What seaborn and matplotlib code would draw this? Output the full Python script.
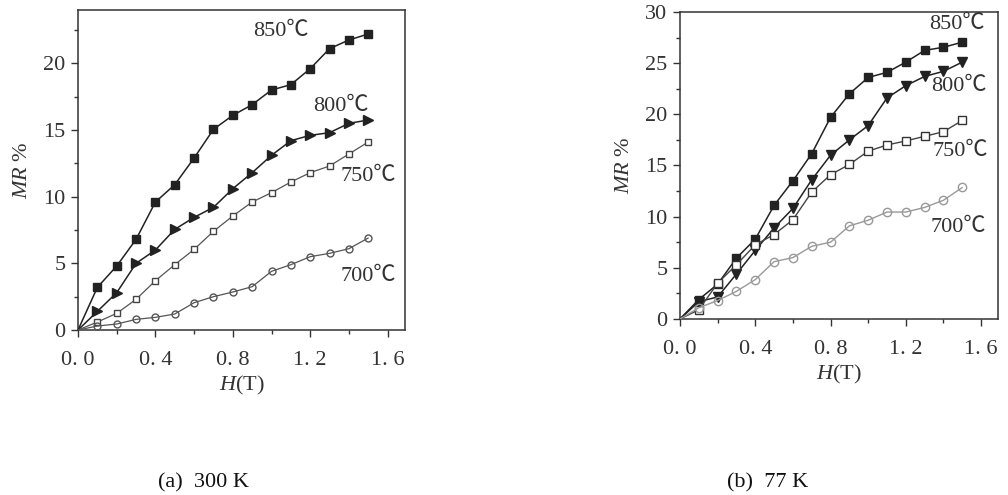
import numpy as np
import pandas as pd
import matplotlib
matplotlib.use("Agg")
import matplotlib.pyplot as plt
from matplotlib.ticker import MultipleLocator, FuncFormatter
import seaborn as sns

# field values (T), shared by both panels
field = [0.0, 0.1, 0.2, 0.3, 0.4, 0.5, 0.6, 0.7, 0.8, 0.9, 1.0, 1.1, 1.2, 1.3, 1.4, 1.5]
temps = ["850℃", "800℃", "750℃", "700℃"]

# (a) 300 K
mr_300_850 = [0, 3.2, 4.8, 6.8, 9.6, 10.9, 12.9, 15.05, 16.1, 16.9, 18.0, 18.4, 19.6, 21.1, 21.75, 22.2]
mr_300_800 = [0, 1.4, 2.8, 5.0, 6.0, 7.55, 8.45, 9.2, 10.6, 11.8, 13.1, 14.2, 14.6, 14.8, 15.5, 15.75]
mr_300_750 = [0, 0.6, 1.25, 2.3, 3.7, 4.9, 6.05, 7.4, 8.55, 9.6, 10.3, 11.1, 11.8, 12.3, 13.2, 14.1]
mr_300_700 = [0, 0.3, 0.45, 0.8, 0.95, 1.2, 2.05, 2.5, 2.85, 3.25, 4.4, 4.9, 5.5, 5.75, 6.1, 6.9]

# (b) 77 K
mr_77_850 = [0, 1.9, 3.4, 5.95, 7.8, 11.1, 13.5, 16.15, 19.7, 22.0, 23.6, 24.1, 25.1, 26.25, 26.55, 27.05]
mr_77_800 = [0, 1.7, 2.15, 4.4, 6.7, 8.9, 10.8, 13.6, 16.0, 17.5, 18.9, 21.6, 22.8, 23.7, 24.2, 25.1]
mr_77_750 = [0, 0.9, 3.5, 5.3, 7.25, 8.25, 9.7, 12.4, 14.1, 15.1, 16.4, 17.0, 17.4, 17.85, 18.3, 19.4]
mr_77_700 = [0, 1.1, 1.8, 2.7, 3.85, 5.6, 6.0, 7.1, 7.5, 9.1, 9.65, 10.45, 10.45, 10.9, 11.6, 12.85]

# label anchor positions (data coords)
label_pos_300 = [(1.05, 22.4), (1.36, 16.8), (1.50, 11.5), (1.50, 4.0)]
label_pos_77 = [(1.47, 28.8), (1.48, 22.7), (1.49, 16.4), (1.48, 8.9)]

sns.set_theme(style="ticks")
plt.rcParams["font.family"] = ["Liberation Serif", "Noto Sans CJK SC", "DejaVu Sans"]
plt.rcParams["mathtext.fontset"] = "custom"
plt.rcParams["mathtext.it"] = "Liberation Serif:italic"
plt.rcParams["mathtext.rm"] = "Liberation Serif"

TXT = "#333333"


def draw_panel(ax, series, markers, styles, label_pos, ylim):
    for name, vals, mk, st in zip(temps, series, markers, styles):
        df = pd.DataFrame({"H": field, "MR": vals})
        sns.lineplot(data=df, x="H", y="MR", ax=ax, color=st["line"], lw=st["lw"],
                     marker=mk, markersize=st["ms"], markerfacecolor=st["face"],
                     markeredgecolor=st["edge"], markeredgewidth=1.0,
                     markevery=list(range(1, len(field))), legend=False, zorder=3)
    for name, (x, y) in zip(temps, label_pos):
        ax.text(x, y, name, ha="center", va="center", fontsize=16, color=TXT)
    ax.set_xlim(0, 1.69)
    ax.set_ylim(*ylim)
    ax.xaxis.set_major_locator(MultipleLocator(0.4))
    ax.xaxis.set_minor_locator(MultipleLocator(0.2))
    ax.yaxis.set_major_locator(MultipleLocator(5))
    ax.yaxis.set_minor_locator(MultipleLocator(2.5))
    ax.xaxis.set_major_formatter(FuncFormatter(lambda v, p: f"{v:.1f}".replace(".", ". ")))
    ax.tick_params(which="major", direction="out", length=5, width=1, labelsize=16,
                   colors=TXT, pad=4)
    ax.tick_params(axis="x", which="major", pad=10)
    ax.tick_params(which="minor", direction="out", length=3, width=1, colors=TXT)
    for s in ax.spines.values():
        s.set_color(TXT)
        s.set_linewidth(1.1)
    ax.set_xlabel(r"$\mathit{H}$(T)", fontsize=16, color=TXT, labelpad=3)
    ax.set_ylabel(r"$\mathit{MR}$ %", fontsize=16, color=TXT, labelpad=8)


fig = plt.figure(figsize=(10.08, 4.95), dpi=100)
ax1 = fig.add_axes([0.0774, 0.3333, 0.3244, 0.6465])
ax2 = fig.add_axes([0.6746, 0.3556, 0.3155, 0.6202])

styles_300 = [
    dict(line="#222222", lw=1.1, ms=5.5, face="#222222", edge="#222222"),
    dict(line="#222222", lw=1.1, ms=6.5, face="#222222", edge="#222222"),
    dict(line="#555555", lw=0.9, ms=5, face="white", edge="#444444"),
    dict(line="#555555", lw=0.9, ms=5, face="none", edge="#555555"),
]
styles_77 = [
    dict(line="#222222", lw=1.1, ms=5.5, face="#222222", edge="#222222"),
    dict(line="#222222", lw=1.1, ms=6.5, face="#222222", edge="#222222"),
    dict(line="#444444", lw=1.0, ms=5.5, face="white", edge="#333333"),
    dict(line="#999999", lw=1.0, ms=6, face="none", edge="#999999"),
]

draw_panel(ax1, [mr_300_850, mr_300_800, mr_300_750, mr_300_700],
           ["s", ">", "s", "o"], styles_300, label_pos_300, (0, 24))
draw_panel(ax2, [mr_77_850, mr_77_800, mr_77_750, mr_77_700],
           ["s", "v", "s", "o"], styles_77, label_pos_77, (0, 30))

fig.text(203 / 1008, 1 - 483 / 495, "(a)  300 K", ha="center", va="center", fontsize=16, color="#111111")
fig.text(768 / 1008, 1 - 483 / 495, "(b)  77 K", ha="center", va="center", fontsize=16, color="#111111")

fig.savefig("out.png", dpi=100, facecolor="white")
